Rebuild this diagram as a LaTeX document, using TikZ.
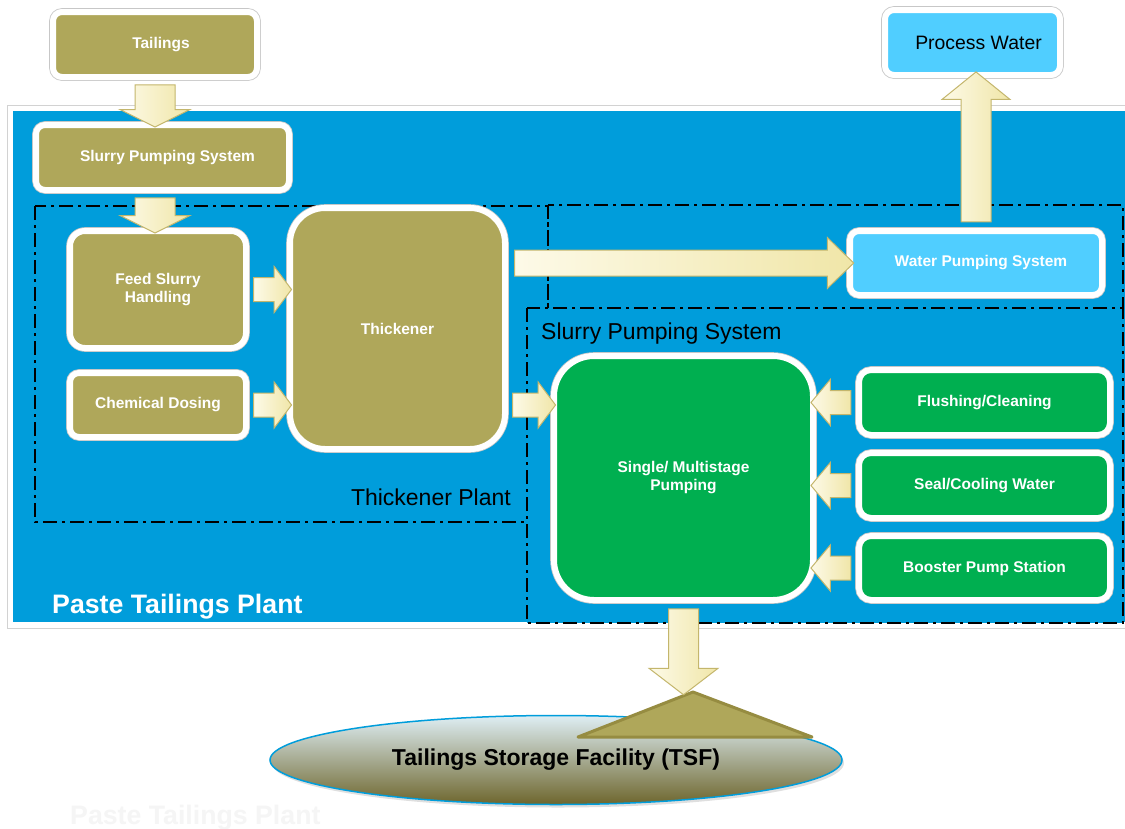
\documentclass[tikz,border=0pt]{standalone}
\usepackage{fontspec}
\setmainfont{Liberation Sans}
\usepackage{tikz}
\usetikzlibrary{shapes.geometric, shapes.arrows, arrows, positioning, calc, shadows}
\definecolor{panelblue}{RGB}{0,157,219}
\definecolor{tailolive}{RGB}{175,167,90}
\definecolor{moundedge}{RGB}{150,140,65}
\definecolor{waterblue}{RGB}{80,206,255}
\definecolor{pumpgreen}{RGB}{0,175,80}
\definecolor{arrowlight}{RGB}{253,250,232}
\definecolor{arrowdark}{RGB}{240,230,168}
\definecolor{arrowedge}{RGB}{196,182,108}
\newcommand*\lblfont{\fontsize{15.5}{18}\selectfont\bfseries}
\tikzstyle{unitbox} = [rectangle, rounded corners=9pt, draw=white, line width=6pt, text=white, font=\lblfont, align=center, inner sep=0pt, drop shadow={opacity=0.35, shadow xshift=1.5pt, shadow yshift=-2.5pt}, preaction={draw=black!22, line width=7.6pt}]
\tikzstyle{tailbox} = [unitbox, fill=tailolive]
\tikzstyle{waterbox} = [unitbox, fill=waterblue]
\tikzstyle{greenbox} = [unitbox, fill=pumpgreen]
\tikzstyle{panel} = [fill=panelblue, draw=white, line width=6pt, drop shadow={opacity=0.35, shadow xshift=2pt, shadow yshift=-4pt}]
\tikzstyle{zone} = [draw=black, line width=2pt, dash pattern=on 14pt off 5pt on 3pt off 5pt]
\tikzstyle{zonelabel} = [inner sep=0pt, font=\fontsize{23}{26}\selectfont]
\tikzstyle{plantlabel} = [inner sep=0pt, text=white, font=\fontsize{26.7}{30}\selectfont\bfseries]
\tikzstyle{flowarrow} = [single arrow, draw=arrowedge, line width=1pt, left color=arrowlight, right color=arrowdark, inner xsep=0pt, outer sep=0pt, minimum width=0pt, single arrow head indent=0pt]
\tikzstyle{mound} = [fill=tailolive, draw=moundedge, line width=3pt, line join=round]
% fat arrow from #1 to #2: shaft half width, head extend, tip angle
\newcommand{\flowarrow}[5]{%
  \path let \p1=(#1), \p2=(#2), \n1={atan2(\y2-\y1,\x2-\x1)}, \n2={veclen(\x2-\x1,\y2-\y1)} in
    node[flowarrow, minimum height=\n2, inner ysep=#3, single arrow head extend=#4, single arrow tip angle=#5, rotate=\n1] at ($(\p1)!0.5!(\p2)$) {};}

\begin{document}
\begin{tikzpicture}[x=1pt, y=-1pt]
  \clip (0,0) rectangle (1125,828);
  \fill[white] (0,0) rectangle (1125,828);

  % Plant and zones
  \draw[panel] (10,108) rectangle (1135,625);
  \draw[gray!35, line width=0.8pt] (7,105) rectangle (1138,628);
  \draw[zone] (35,206) rectangle (548,522);
  \draw[zone] (548,205) rectangle (1123,308);
  \draw[zone, fill=panelblue] (527,308) rectangle (1123,623);
  \node (tplabel) [zonelabel, anchor=base east] at (511,505) {Thickener Plant};
  \node (splabel) [zonelabel, anchor=base west] at (541,339) {Slurry Pumping System};
  \node (ptplabel) [plantlabel, anchor=base west] at (52,613) {Paste Tailings Plant};
  \node (ghost) [plantlabel, text=black!4, anchor=base west] at (70,824) {Paste Tailings Plant};

  % Nodes
  \node (tail) [tailbox, minimum width=204pt, minimum height=65pt] at (155,44.5) {\hspace*{12pt}Tailings};
  \node (sps) [tailbox, minimum width=253pt, minimum height=65pt] at (162.5,157.5) {\hspace*{10pt}Slurry Pumping System};
  \node (feed) [tailbox, rounded corners=15pt, minimum width=176pt, minimum height=117pt] at (158,289.5) {Feed Slurry\\Handling};
  \node (chem) [tailbox, minimum width=176pt, minimum height=64pt, below=19pt of feed] {Chemical Dosing};
  \node (thick) [tailbox, rounded corners=35pt, minimum width=215pt, minimum height=241pt] at (397.5,328.5) {Thickener};
  \node (wps) [waterbox, minimum width=252pt, minimum height=64pt] at (976,263) {\hspace*{10pt}Water Pumping System};
  \node (pw) [waterbox, text=black, font=\fontsize{19.4}{22}\selectfont, minimum width=175pt, minimum height=65pt] at (972.5,42.5) {\hspace*{12pt}Process Water};
  \node (pump) [greenbox, rounded corners=40pt, minimum width=259pt, minimum height=244pt] at (683.5,478) {Single/ Multistage\\Pumping};
  \node (flush) [greenbox, rounded corners=12pt, minimum width=251pt, minimum height=65pt] at (984.5,402.5) {Flushing/Cleaning};
  \node (seal) [greenbox, rounded corners=12pt, minimum width=251pt, minimum height=65pt, below=12pt of flush] {Seal/Cooling Water};
  \node (boost) [greenbox, rounded corners=12pt, minimum width=251pt, minimum height=64pt, below=12pt of seal] {Booster Pump Station};

  % Storage facility
  \node (tsf) [ellipse, draw=panelblue, line width=1.5pt, top color={rgb,255:red,222;green,238;blue,244}, middle color={rgb,255:red,168;green,166;blue,128}, bottom color={rgb,255:red,110;green,102;blue,45}, minimum width=572pt, minimum height=89pt, font=\fontsize{23}{26}\selectfont\bfseries, drop shadow={opacity=0.25, shadow xshift=2pt, shadow yshift=-3pt}] at (556,760) {Tailings Storage Facility (TSF)};
  \coordinate (mtop) at (693,692);
  \coordinate (mleft) at (578,737);
  \coordinate (mright) at (812,737);
  \draw[mound] (mtop) -- (mleft) -- (mright) -- cycle;

  % Arrows
  \flowarrow{tail.south}{tail.south |- sps.north}{19.5pt}{15pt}{127}
  \flowarrow{tail.south |- sps.south}{tail.south |- feed.north}{19.5pt}{15pt}{127}
  \flowarrow{feed.east}{feed.east -| thick.west}{11.5pt}{11pt}{106}
  \flowarrow{chem.east}{chem.east -| thick.west}{11.5pt}{11pt}{106}
  \flowarrow{thick.east |- wps.west}{wps.west}{12.5pt}{12.5pt}{88}
  \flowarrow{wps.north}{wps.north |- pw.south}{14.5pt}{19pt}{102}
  \flowarrow{chem.east -| thick.east}{chem.east -| pump.west}{11.5pt}{11pt}{106}
  \flowarrow{flush.west}{flush.west -| pump.east}{11.5pt}{11pt}{100}
  \flowarrow{seal.west}{seal.west -| pump.east}{11.5pt}{11pt}{100}
  \flowarrow{boost.west}{boost.west -| pump.east}{11.5pt}{11pt}{100}
  \flowarrow{pump.south}{$(pump.south |- mtop)+(0,-3)$}{14.5pt}{19.5pt}{105}

\end{tikzpicture}
\end{document}
